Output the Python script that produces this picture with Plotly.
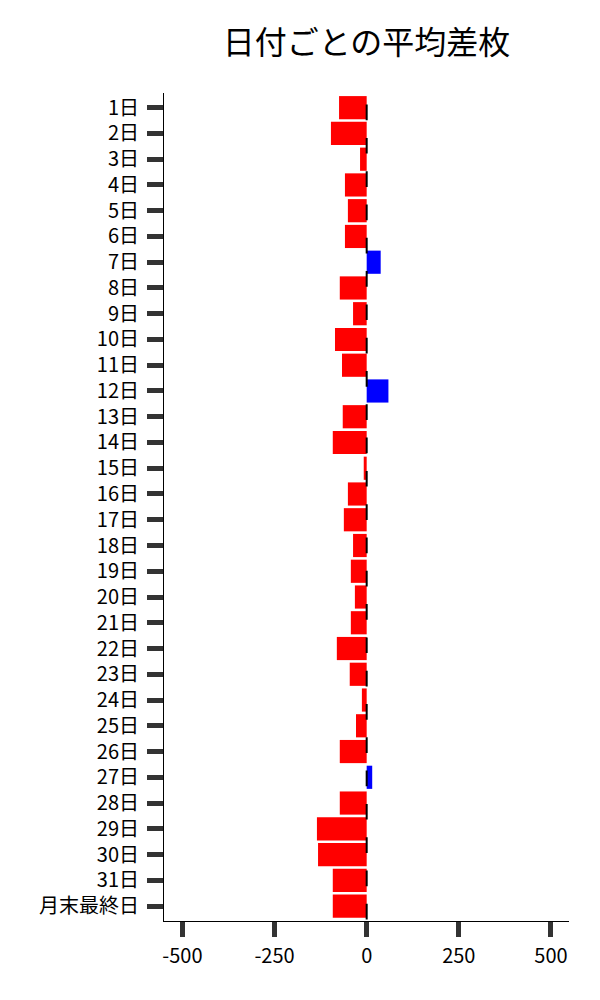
import plotly.graph_objects as go

# 日付ごとの平均差枚
days = [f"{d}日" for d in range(1, 32)] + ["月末最終日"]
avg_diff = [
    -75, -97, -18, -59, -51, -59, 38, -73, -37, -86,
    -67, 59, -65, -92, -8, -51, -62, -37, -43, -32,
    -43, -81, -46, -13, -29, -73, 15, -73, -135, -132,
    -92, -92,
]
tick_vals = [-500, -250, 0, 250, 500]
tick_text = ["-500", "-250", "0", "250", "500"]

colors = ["red" if v < 0 else "blue" for v in avg_diff]

fig = go.Figure()
fig.add_trace(go.Bar(
    x=avg_diff,
    y=days,
    orientation="h",
    marker=dict(color=colors, line=dict(width=0)),
    width=0.9,
))

# 0 の位置に破線
fig.add_shape(
    type="line", xref="x", yref="y",
    x0=0, x1=0, y0=-0.12, y1=31.58,
    line=dict(color="black", width=2, dash="15.7px,17.6px"),
    layer="above",
)

fig.update_layout(
    width=600, height=1000,
    margin=dict(l=164, r=31, t=93, b=79),
    plot_bgcolor="white", paper_bgcolor="white",
    font=dict(family="Noto Sans CJK JP", size=20, color="black"),
    showlegend=False,
    bargap=0.1,
    title=dict(
        text="日付ごとの平均差枚",
        font=dict(size=32, color="black"),
        x=0.5, xref="paper", xanchor="center",
        y=0.957, yref="container", yanchor="middle",
    ),
)
fig.update_xaxes(
    range=[-550, 549],
    tickvals=tick_vals, ticktext=tick_text,
    ticks="outside", ticklen=15, tickwidth=5, tickcolor="#333",
    ticklabelstandoff=2,
    showline=True, linecolor="black", linewidth=1,
    showgrid=False, zeroline=False,
)
fig.update_yaxes(
    type="category",
    range=[31.58, -0.57],
    ticks="outside", ticklen=16, tickwidth=5, tickcolor="#333",
    ticklabelstandoff=4,
    showline=True, linecolor="black", linewidth=1,
    showgrid=False, zeroline=False,
)

fig.write_html(
    "out.html",
    config={"displayModeBar": False},
    post_script="document.body.style.margin = '0';",
)
